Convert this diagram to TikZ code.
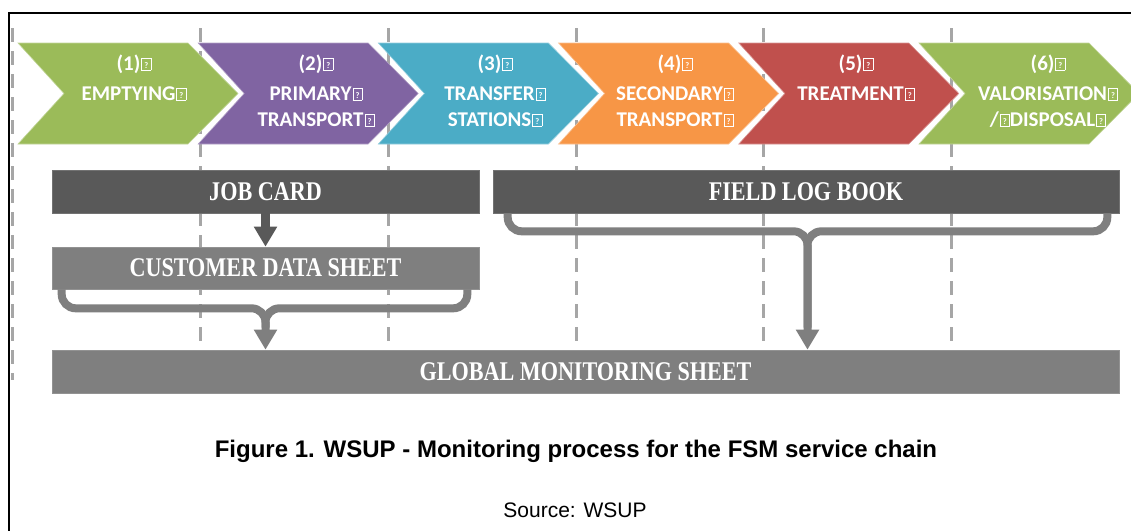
\documentclass[tikz,border=0pt]{standalone}
\usepackage{fontspec}
\setmainfont{Liberation Sans}
\newfontfamily\chevfont{Carlito}
\newfontfamily\barfont[FakeStretch=0.82]{Liberation Serif}
\usetikzlibrary{arrows.meta,calc}
\definecolor{cgreen}{HTML}{9BBB59}
\definecolor{cpurple}{HTML}{8064A2}
\definecolor{cteal}{HTML}{4BACC6}
\definecolor{corange}{HTML}{F79646}
\definecolor{cred}{HTML}{C0504D}
\definecolor{bardark}{HTML}{595959}
\definecolor{barmid}{HTML}{7F7F7F}
\definecolor{dashgray}{HTML}{A6A6A6}
\newcommand\qb{\kern1pt{\fboxsep=0pt\fboxrule=0.7pt\fbox{\makebox[8.5pt]{\rule{0pt}{11.5pt}\raisebox{1.8pt}{\fontsize{8.5}{8.5}\selectfont ?}}}}}
\tikzset{
  dashline/.style={draw=dashgray,line width=3pt,dash pattern=on 14pt off 9pt},
  chev/.style={line width=0.6pt},
  chevtext/.style={text=white,font=\chevfont\bfseries\fontsize{21}{24}\selectfont,anchor=base,inner sep=0pt},
  bar/.style={inner sep=0pt,text=white,font=\barfont\bfseries\fontsize{27}{30}\selectfont},
  darrow/.style={draw=bardark,line width=9pt,-{Triangle[width=22pt,length=20pt]}},
  brk/.style={draw=barmid,line width=8pt,rounded corners=14pt},
  brkarrow/.style={brk,-{Triangle[width=22pt,length=20pt]}}
}
\begin{document}
\begin{tikzpicture}[x=1pt,y=-1pt]
\useasboundingbox (0,0) rectangle (1131,530);
\fill[white] (0,0) rectangle (1131,530);
% dashed guide lines
\foreach \x in {12.5,200,388,576,763,951}
  \draw[dashline] (\x,28) -- (\x,380);
% chevrons
\foreach \i/\c in {0/cgreen,1/cpurple,2/cteal,3/corange,4/cred,5/cgreen}{
  \pgfmathsetmacro\xo{18+180.2*\i}
  \filldraw[chev,fill=\c,draw=\c!60!white] (\xo,43) -- (\xo+170,43) -- (\xo+220,93.5) -- (\xo+170,144) -- (\xo,144) -- (\xo+46,93.5) -- cycle;
}
% chevron texts
\node[chevtext] (n1) at (134,70) {(1)\qb};
\node[chevtext] (l1) at (134,100) {EMPTYING\qb};
\node[chevtext] (n2) at (316,70) {(2)\qb};
\node[chevtext] (l2a) at (316,100) {PRIMARY\qb};
\node[chevtext] (l2b) at (316,126) {TRANSPORT\qb};
\node[chevtext] (n3) at (495,70) {(3)\qb};
\node[chevtext] (l3a) at (495,100) {TRANSFER\qb};
\node[chevtext] (l3b) at (495,126) {STATIONS\qb};
\node[chevtext] (n4) at (675,70) {(4)\qb};
\node[chevtext] (l4a) at (675,100) {SECONDARY\qb};
\node[chevtext] (l4b) at (675,126) {TRANSPORT\qb};
\node[chevtext] (n5) at (856,70) {(5)\qb};
\node[chevtext] (l5) at (856,100) {TREATMENT\qb};
\node[chevtext] (n6) at (1048,70) {(6)\qb};
\node[chevtext] (l6a) at (1048,100) {VALORISATION\qb};
\node[chevtext] (l6b) at (1048,126) {/\qb DISPOSAL\qb};
% bars
\node[bar,fill=bardark,draw=bardark!85!white,line width=0.6pt,minimum width=427pt,minimum height=43pt] (jc) at (265.5,191.5) {JOB CARD};
\node[bar,fill=barmid,draw=barmid!85!white,line width=0.6pt,minimum width=427pt,minimum height=42pt] (cds) at (265.5,268) {CUSTOMER DATA SHEET};
\node[bar,fill=bardark,draw=bardark!85!white,line width=0.6pt,minimum width=626pt,minimum height=43pt] (flb) at (806,191.5) {FIELD LOG BOOK};
\node[bar,fill=barmid,draw=barmid!85!white,line width=0.6pt,minimum width=1067pt,minimum height=43pt] (gms) at (585.5,371.5) {GLOBAL MONITORING SHEET};
% connectors
\draw[darrow] (jc.south) -- (cds.north);
\draw[brkarrow] ($(cds.south west)+(10,0)$) -- ($(cds.south west)+(10,19)$) -- ($(cds.south)+(0,19)$) -- (cds.south |- gms.north);
\draw[brk] ($(cds.south east)+(-12,0)$) -- ($(cds.south east)+(-12,19)$) -- ($(cds.south)+(0,19)$) -- ($(cds.south |- gms.north)+(0,-22)$);
\draw[brkarrow] ($(flb.south west)+(15,0)$) -- ($(flb.south west)+(15,18)$) -- ($(flb.south)+(1.5,18)$) -- ($(flb.south |- gms.north)+(1.5,0)$);
\draw[brk] ($(flb.south east)+(-12,0)$) -- ($(flb.south east)+(-12,18)$) -- ($(flb.south)+(1.5,18)$) -- ($(flb.south |- gms.north)+(1.5,-22)$);
% caption
\node[font=\bfseries\fontsize{24}{28}\selectfont,inner sep=0pt] (cap) at (576,451) {Figure 1. WSUP - Monitoring process for the FSM service chain};
\node[font=\fontsize{21}{24}\selectfont,inner sep=0pt] (src) at (575,510) {Source: WSUP};
% frame
\draw[line width=2pt,line cap=rect] (9,531) -- (9,12.5) -- (1132,12.5);
\end{tikzpicture}
\end{document}
